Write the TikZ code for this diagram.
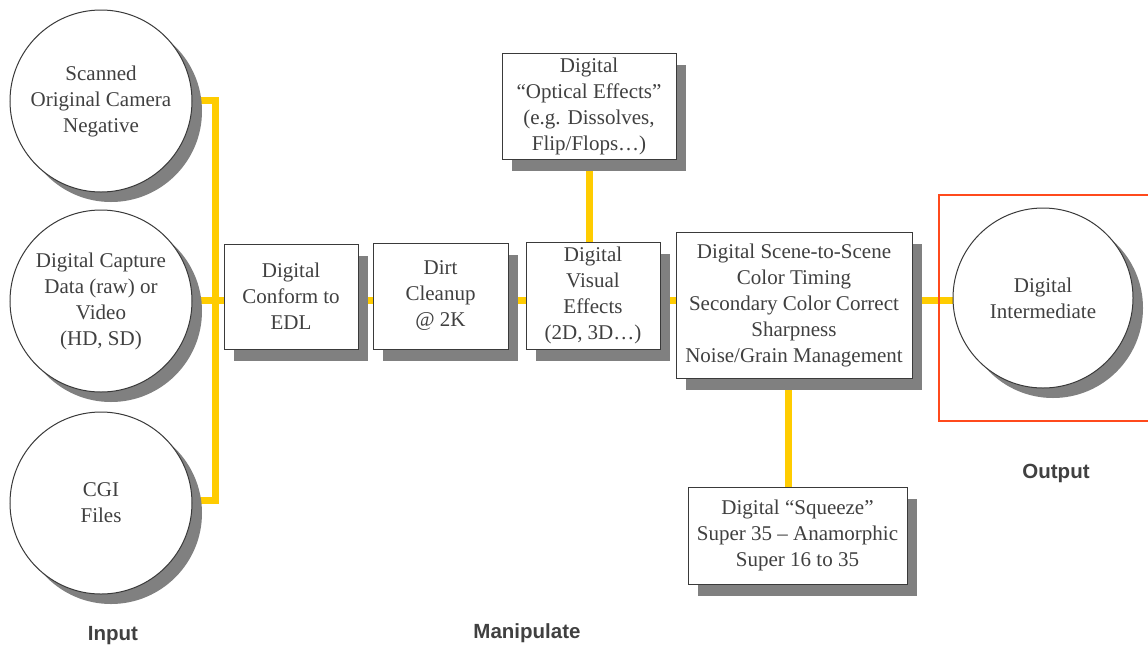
\documentclass[tikz,border=0pt]{standalone}
\usepackage{fontspec}
\setmainfont{Liberation Serif}
\setsansfont{Liberation Sans}
\usetikzlibrary{shadows,backgrounds}
\definecolor{txt}{HTML}{404040}
\definecolor{edge}{HTML}{3A3A3A}
\definecolor{shad}{HTML}{808080}
\definecolor{link}{HTML}{FFCC00}
\definecolor{outred}{HTML}{FF4A1C}
\tikzset{
  base/.style={draw=edge, line width=1pt, fill=white, text=txt, align=center,
    font=\fontsize{21}{26}\selectfont, inner sep=0pt},
  src/.style={base, circle, minimum size=182pt,
    drop shadow={shadow xshift=10pt, shadow yshift=-10pt, fill=shad, opacity=1}},
  stepbox/.style={base, rectangle,
    drop shadow={shadow xshift=10pt, shadow yshift=-12pt, fill=shad, opacity=1}},
  link/.style={draw=link, line width=7pt},
  phase/.style={font=\sffamily\bfseries\fontsize{20.5}{24}\selectfont, text=txt}
}
\begin{document}
\begin{tikzpicture}[x=1pt,y=-1pt]
\clip (0,0) rectangle (1148,649);

\node[src] (c1) at (101,101) {Scanned\\Original Camera\\Negative};
\node[src] (c2) at (101,301) {Digital Capture\\Data (raw) or\\Video\\(HD, SD)};
\node[src] (c3) at (101,503) {CGI\\Files};

\node[stepbox, minimum width=134pt, minimum height=105pt] (b1) at (291,296.5) {Digital\\Conform to\\EDL};
\node[stepbox, minimum width=135pt, minimum height=106pt] (b2) at (440.5,296) {Dirt\\Cleanup\\@ 2K};
\node[stepbox, minimum width=134pt, minimum height=107pt] (b3) at (593,295.5) {Digital\\Visual\\Effects\\(2D, 3D\ldots)};
\node[stepbox, minimum width=236pt, minimum height=146pt] (b4) at (794,305) {Digital Scene-to-Scene\\Color Timing\\Secondary Color Correct\\Sharpness\\Noise/Grain Management};
\node[stepbox, minimum width=174pt, minimum height=106pt] (top) at (589,106) {Digital\\``Optical Effects''\\(e.g. Dissolves,\\Flip/Flops\ldots)};
\node[stepbox, minimum width=219pt, minimum height=97pt] (bot) at (797.5,535.5) {Digital ``Squeeze''\\Super 35 -- Anamorphic\\Super 16 to 35};

\node[src, minimum size=180pt] (out) at (1043,298) {Digital\\Intermediate};
\draw[outred, line width=1.5pt] (939,195) rectangle (1170,421);

\coordinate (j1) at (215.5,100);
\coordinate (j2) at (215.5,300.5);
\coordinate (j3) at (215.5,500.5);

\begin{scope}[on background layer]
  \draw[link] (c1.center |- j1) -- (j1) -- (j3) -- (c3.center |- j3);
  \draw[link] (c2.center |- j2) -- (b1.center |- j2);
  \draw[link] (b1.center |- j2) -- (b2.center |- j2) -- (b3.center |- j2) -- (b4.center |- j2) -- (out.center |- j2);
  \draw[link] (top.center) -- (top.center |- b3.center);
  \draw[link] (b4.center -| 788,0) -- (bot.center -| 788,0);
\end{scope}

\node[phase] (lin) at (113,636) {Input};
\node[phase] (lman) at (527,633) {Manipulate};
\node[phase] (lout) at (1056,473) {Output};
\end{tikzpicture}
\end{document}
